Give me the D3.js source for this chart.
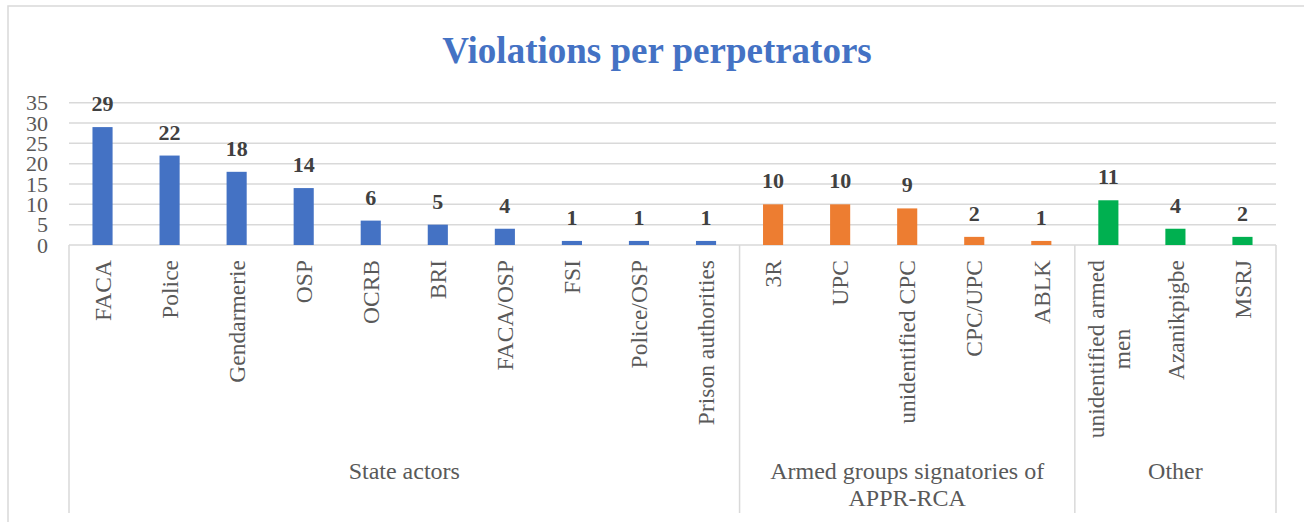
<!DOCTYPE html>
<html>
<head>
<meta charset="utf-8">
<script src="https://cdn.jsdelivr.net/npm/d3@7"></script>
<style>
  body { margin: 0; background: #fff; }
  svg text, svg tspan { font-family: "Liberation Serif", "DejaVu Serif", serif; }
</style>
</head>
<body>
<svg id="chart" width="1304" height="522" font-family="Liberation Serif, serif"></svg>
<script>
// data
var categories = ["FACA", "Police", "Gendarmerie", "OSP", "OCRB", "BRI", "FACA/OSP", "FSI", "Police/OSP", "Prison authorities",
                  "3R", "UPC", "unidentified CPC", "CPC/UPC", "ABLK",
                  "unidentified armed|men", "Azanikpigbe", "MSRJ"];
var values = [29, 22, 18, 14, 6, 5, 4, 1, 1, 1, 10, 10, 9, 2, 1, 11, 4, 2];
var groupOf = [0, 0, 0, 0, 0, 0, 0, 0, 0, 0, 1, 1, 1, 1, 1, 2, 2, 2];
var groups = ["State actors", "Armed groups signatories of|APPR-RCA", "Other"];
var groupColors = ["#4472C4", "#ED7D31", "#00B050"];
var yTicks = [0, 5, 10, 15, 20, 25, 30, 35];

var svg = d3.select("#chart");
var plotLeft = 69, plotRight = 1276, plotTop = 102.7, plotBase = 245, plotBottom = 513;
var gridColor = "#D9D9D9";
var serif = "Liberation Serif, serif";

// chart frame (cropped on right/bottom in the reference)
svg.append("rect")
    .attr("x", 8).attr("y", 6)
    .attr("width", 1310).attr("height", 530)
    .attr("fill", "none").attr("stroke", gridColor).attr("stroke-width", 1.5);

svg.append("text")
    .attr("x", 657).attr("y", 63)
    .attr("text-anchor", "middle")
    .attr("font-family", serif)
    .attr("font-size", 37).attr("font-weight", "bold")
    .attr("fill", "#4472C4")
    .text("Violations per perpetrators");

var x = d3.scaleBand()
    .domain(d3.range(categories.length))
    .range([plotLeft, plotRight])
    .paddingInner(0.7)
    .paddingOuter(0.35);

var y = d3.scaleLinear().domain([0, 35]).range([plotBase, plotTop]);

// gridlines
svg.selectAll("line.grid")
    .data(yTicks)
    .enter().append("line")
    .attr("class", "grid")
    .attr("x1", plotLeft).attr("x2", plotRight)
    .attr("y1", function(d) { return y(d); })
    .attr("y2", function(d) { return y(d); })
    .attr("stroke", gridColor).attr("stroke-width", 1.5);

svg.selectAll("text.ytick")
    .data(yTicks)
    .enter().append("text")
    .attr("class", "ytick")
    .attr("x", 48)
    .attr("y", function(d) { return y(d); })
    .attr("dy", "0.35em")
    .attr("text-anchor", "end")
    .attr("font-family", serif)
    .attr("font-size", 22)
    .attr("fill", "#595959")
    .text(String);

// group separators
var step = x.step();
var bounds = [0, 10, 15, 18];
svg.selectAll("line.sep")
    .data(bounds)
    .enter().append("line")
    .attr("class", "sep")
    .attr("x1", function(d) { return plotLeft + d * step; })
    .attr("x2", function(d) { return plotLeft + d * step; })
    .attr("y1", plotBase).attr("y2", plotBottom)
    .attr("stroke", gridColor).attr("stroke-width", 1.5);

// bars
svg.selectAll("rect.bar")
    .data(values)
    .enter().append("rect")
    .attr("class", "bar")
    .attr("x", function(d, i) { return x(i); })
    .attr("y", function(d) { return y(d); })
    .attr("width", x.bandwidth())
    .attr("height", function(d) { return plotBase - y(d); })
    .attr("fill", function(d, i) { return groupColors[groupOf[i]]; });

// value labels
svg.selectAll("text.val")
    .data(values)
    .enter().append("text")
    .attr("class", "val")
    .attr("x", function(d, i) { return x(i) + x.bandwidth() / 2; })
    .attr("y", function(d) { return y(d) - 16; })
    .attr("text-anchor", "middle")
    .attr("font-family", serif)
    .attr("font-size", 22).attr("font-weight", "bold")
    .attr("fill", "#404040")
    .text(String);

// category labels, rotated
categories.forEach(function(c, i) {
    var lines = c.split("|");
    var cx = x(i) + x.bandwidth() / 2;
    var lh = 26;
    var g = svg.append("g");
    var t = g.append("text")
        .attr("font-family", serif)
        .attr("font-size", 23.5)
        .attr("fill", "#595959")
        .attr("text-anchor", lines.length > 1 ? "middle" : "end");
    lines.forEach(function(l, j) {
        t.append("tspan")
            .attr("x", 0)
            .attr("y", (j - (lines.length - 1) / 2) * lh)
            .attr("dy", "0.35em")
            .text(l);
    });
    var ty = 260;
    if (lines.length > 1) {
        var maxLen = d3.max(t.selectAll("tspan").nodes(), function(n) { return n.getComputedTextLength(); });
        ty = 260 + maxLen / 2;
    }
    g.attr("transform", "translate(" + cx + "," + ty + ") rotate(-90)");
});

// group labels
groups.forEach(function(gname, k) {
    var cx = plotLeft + (bounds[k] + bounds[k + 1]) / 2 * step;
    var t = svg.append("text")
        .attr("text-anchor", "middle")
        .attr("font-family", serif)
        .attr("font-size", 24)
        .attr("fill", "#595959");
    gname.split("|").forEach(function(l, j) {
        t.append("tspan").attr("x", cx).attr("y", 479 + j * 27).text(l);
    });
});
</script>
</body>
</html>
